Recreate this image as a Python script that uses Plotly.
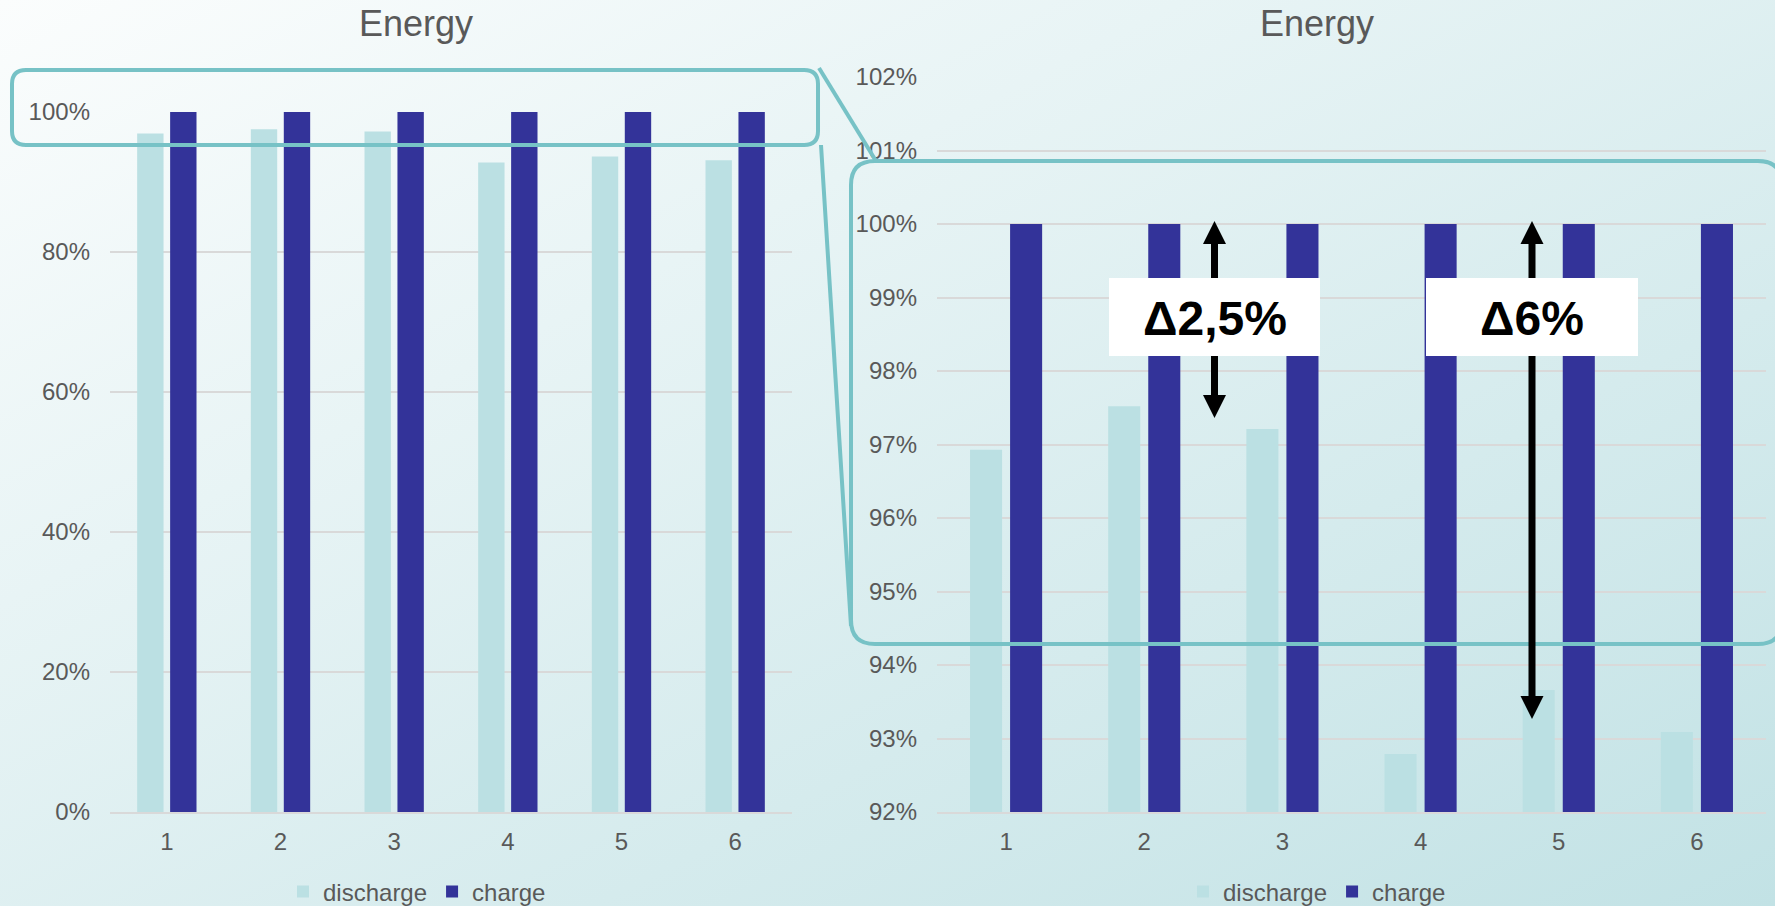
import base64
import plotly.graph_objects as go

# ---------------- data ----------------
categories = [1, 2, 3, 4, 5, 6]
category_labels = ["1", "2", "3", "4", "5", "6"]
discharge = [0.9693, 0.9752, 0.9721, 0.9279, 0.9366, 0.9309]
charge = [1.0, 1.0, 1.0, 1.0, 1.0, 1.0]
left_ticks = [0.0, 0.2, 0.4, 0.6, 0.8, 1.0]
right_ticks = [0.92, 0.93, 0.94, 0.95, 0.96, 0.97, 0.98, 0.99, 1.00, 1.01, 1.02]
series_names = ["discharge", "charge"]
chart_title = "Energy"
delta_labels = ["Δ2,5%", "Δ6%"]

# ---------------- styling ----------------
W, H = 1775, 906
FONT = "Liberation Sans, Arial, sans-serif"
GREY = "#595959"
GRID = "#D9D9D9"
C_DIS = "#BBE0E3"
C_CHG = "#333399"
TEAL = "#77C2C6"


def px(x):
    return x / W


def py(y):
    return 1 - y / H


fig = go.Figure()
for xa, ya, leg in [("x", "y", "legend"), ("x2", "y2", "legend2")]:
    fig.add_trace(go.Bar(x=categories, y=discharge, name=series_names[0],
                         marker=dict(color=C_DIS, line=dict(width=0)),
                         xaxis=xa, yaxis=ya, legend=leg, hoverinfo="skip"))
    fig.add_trace(go.Bar(x=categories, y=charge, name=series_names[1],
                         marker=dict(color=C_CHG, line=dict(width=0)),
                         xaxis=xa, yaxis=ya, legend=leg, hoverinfo="skip"))

tickfont = dict(family=FONT, size=24, color=GREY)
xcommon = dict(range=[0.5, 6.5], tickvals=categories, ticktext=category_labels,
               showgrid=False, showline=True, linecolor=GRID, linewidth=2,
               ticks="", tickfont=tickfont, zeroline=False, fixedrange=True,
               ticklabelstandoff=7)
ycommon = dict(tickformat=".0%", showgrid=True, gridcolor=GRID, gridwidth=1.5,
               zeroline=False, showline=False, ticks="", tickfont=tickfont,
               fixedrange=True, ticklabelstandoff=19)

# background gradient as an svg image
svg = (
    f'<svg xmlns="http://www.w3.org/2000/svg" width="{W}" height="{H}" '
    f'viewBox="0 0 {W} {H}" preserveAspectRatio="none">'
    '<defs><linearGradient id="g" x1="0" y1="0" x2="1" y2="1">'
    '<stop offset="0" stop-color="#FBFDFD"/>'
    '<stop offset="1" stop-color="#C2E2E5"/>'
    '</linearGradient></defs>'
    f'<rect width="{W}" height="{H}" fill="url(#g)"/></svg>'
)
svg_uri = "data:image/svg+xml;base64," + base64.b64encode(svg.encode()).decode()


def rrect(x0, y0, x1, y1, r):
    pts = [
        ("M", [(x0 + r, y0)]),
        ("L", [(x1 - r, y0)]),
        ("Q", [(x1, y0), (x1, y0 + r)]),
        ("L", [(x1, y1 - r)]),
        ("Q", [(x1, y1), (x1 - r, y1)]),
        ("L", [(x0 + r, y1)]),
        ("Q", [(x0, y1), (x0, y1 - r)]),
        ("L", [(x0, y0 + r)]),
        ("Q", [(x0, y0), (x0 + r, y0)]),
    ]
    s = ""
    for cmd, ps in pts:
        s += cmd + " ".join(f"{px(a):.5f},{py(b):.5f}" for a, b in ps) + " "
    return s + "Z"


def tri(xc, ytip, ybase, half):
    return (f"M{px(xc):.5f},{py(ytip):.5f} L{px(xc - half):.5f},{py(ybase):.5f} "
            f"L{px(xc + half):.5f},{py(ybase):.5f} Z")


shapes = []
# teal callout boxes + connectors
teal_line = dict(color=TEAL, width=4)
shapes.append(dict(type="path", xref="paper", yref="paper", path=rrect(12, 70, 818, 145, 14),
                   line=teal_line, fillcolor="rgba(0,0,0,0)", layer="above"))
shapes.append(dict(type="path", xref="paper", yref="paper", path=rrect(851, 161, 1782, 644, 24),
                   line=teal_line, fillcolor="rgba(0,0,0,0)", layer="above"))
shapes.append(dict(type="line", xref="paper", yref="paper", x0=px(819), y0=py(68), x1=px(876), y1=py(161),
                   line=teal_line, layer="above"))
shapes.append(dict(type="line", xref="paper", yref="paper", x0=px(821), y0=py(145), x1=px(851), y1=py(626),
                   line=teal_line, layer="above"))

# double arrows
for xc, ytop, ybot in [(1214.5, 221, 418), (1532, 221, 719)]:
    head = 23
    shapes.append(dict(type="line", xref="paper", yref="paper", x0=px(xc), y0=py(ytop + head - 2),
                       x1=px(xc), y1=py(ybot - head + 2), line=dict(color="black", width=7), layer="above"))
    shapes.append(dict(type="path", xref="paper", yref="paper", path=tri(xc, ytop, ytop + head, 11.5),
                       fillcolor="black", line=dict(width=0), layer="above"))
    shapes.append(dict(type="path", xref="paper", yref="paper", path=tri(xc, ybot, ybot - head, 11.5),
                       fillcolor="black", line=dict(width=0), layer="above"))

# white label boxes
for x0, x1 in [(1109, 1320), (1426, 1638)]:
    shapes.append(dict(type="rect", xref="paper", yref="paper", x0=px(x0), x1=px(x1), y0=py(278), y1=py(356),
                       fillcolor="white", line=dict(width=0), layer="above"))

annotations = [
    dict(text=chart_title, x=px(416), y=py(23), xref="paper", yref="paper", showarrow=False,
         xanchor="center", yanchor="middle", font=dict(family=FONT, size=36, color=GREY)),
    dict(text=chart_title, x=px(1317), y=py(23), xref="paper", yref="paper", showarrow=False,
         xanchor="center", yanchor="middle", font=dict(family=FONT, size=36, color=GREY)),
    dict(text=f"<b>{delta_labels[0]}</b>", x=px(1214.5), y=py(318), xref="paper", yref="paper", showarrow=False,
         xanchor="center", yanchor="middle", font=dict(family=FONT, size=48, color="black")),
    dict(text=f"<b>{delta_labels[1]}</b>", x=px(1532), y=py(318), xref="paper", yref="paper", showarrow=False,
         xanchor="center", yanchor="middle", font=dict(family=FONT, size=48, color="black")),
]

legend_common = dict(orientation="h", yanchor="middle", y=py(892), xanchor="center",
                     font=dict(family=FONT, size=24, color=GREY), bgcolor="rgba(0,0,0,0)",
                     itemwidth=30, traceorder="normal", itemclick=False, itemdoubleclick=False)

fig.update_layout(
    width=W, height=H, autosize=False,
    margin=dict(l=0, r=0, t=0, b=0, pad=0, autoexpand=False),
    paper_bgcolor="#E0F0F2", plot_bgcolor="rgba(0,0,0,0)",
    font=dict(family=FONT, color=GREY),
    barmode="group", bargap=0.42, bargroupgap=0.2,
    showlegend=True,
    legend=dict(x=px(417), **legend_common),
    legend2=dict(x=px(1317), **legend_common),
    xaxis=dict(domain=[px(110), px(792)], anchor="y", **xcommon),
    yaxis=dict(domain=[py(812), py(112)], anchor="x", range=[0, 1], tickvals=left_ticks, **ycommon),
    xaxis2=dict(domain=[px(937), px(1766)], anchor="y2", **xcommon),
    yaxis2=dict(domain=[py(812), py(77)], anchor="x2", range=[0.92, 1.02], tickvals=right_ticks, **ycommon),
    images=[dict(source=svg_uri, xref="paper", yref="paper", x=0, y=1, sizex=1, sizey=1,
                 xanchor="left", yanchor="top", sizing="stretch", layer="below")],
    shapes=shapes,
    annotations=annotations,
)

fig.write_html("out.html", config={"displayModeBar": False})
